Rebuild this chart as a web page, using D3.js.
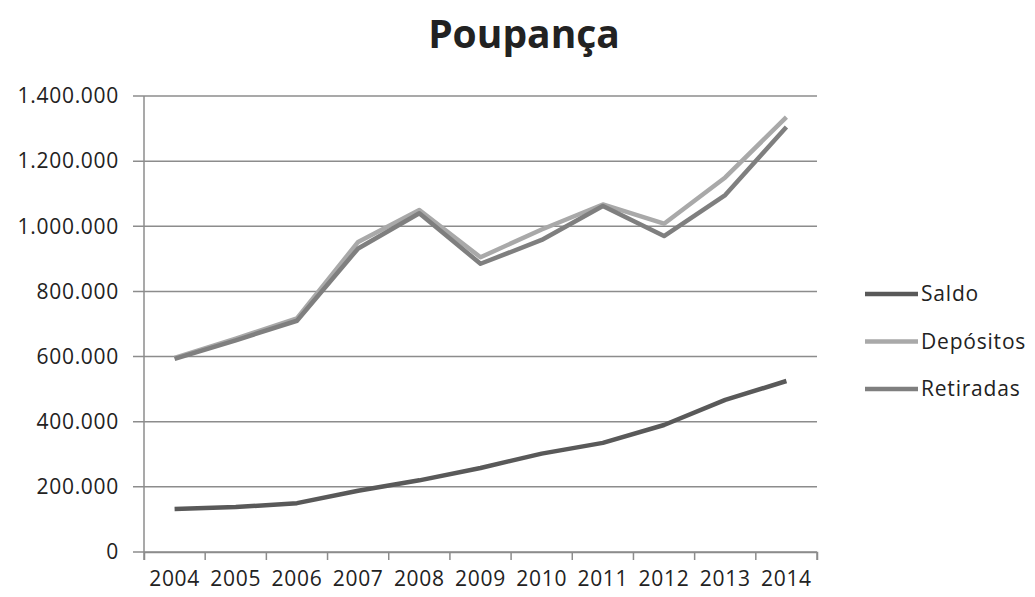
<!DOCTYPE html>
<html lang="pt">
<head>
  <meta charset="utf-8">
  <title>Poupança</title>
  <script src="https://d3js.org/d3.v7.min.js"></script>
  <style>
    body { margin: 0; background: #fff; }
    text { font-family: "Open Sans", "Noto Sans", sans-serif; fill: #222; }
  </style>
</head>
<body>
<script>
  var years = ["2004", "2005", "2006", "2007", "2008", "2009", "2010", "2011", "2012", "2013", "2014"];
  var saldo = [132000, 138000, 150000, 188000, 220000, 258000, 302000, 335000, 390000, 467000, 525000];
  var depositos = [596000, 655000, 717000, 952000, 1050000, 905000, 990000, 1067000, 1008000, 1150000, 1335000];
  var retiradas = [593000, 650000, 710000, 932000, 1040000, 885000, 958000, 1062000, 970000, 1096000, 1305000];
  var yTicks = [0, 200000, 400000, 600000, 800000, 1000000, 1200000, 1400000];

  var series = [
    { name: "Saldo", values: saldo, color: "#595959" },
    { name: "Depósitos", values: depositos, color: "#a9a9a9" },
    { name: "Retiradas", values: retiradas, color: "#7f7f7f" }
  ];

  var width = 1035, height = 597;
  var margin = { left: 144, right: 218, top: 96, bottom: 45 };

  var svg = d3.select("body").append("svg")
      .attr("width", width)
      .attr("height", height);

  var x = d3.scaleBand()
      .domain(years)
      .range([margin.left, width - margin.right]);

  var y = d3.scaleLinear()
      .domain([0, 1400000])
      .range([height - margin.bottom, margin.top]);

  var fmt = d3.formatLocale({ decimal: ",", thousands: ".", grouping: [3], currency: ["R$", ""] }).format(",d");

  // grid lines
  svg.append("g")
      .selectAll("line")
      .data(yTicks)
      .enter()
      .append("line")
      .attr("x1", margin.left - 11)
      .attr("x2", width - margin.right)
      .attr("y1", function(d) { return y(d); })
      .attr("y2", function(d) { return y(d); })
      .attr("stroke", "#8c8c8c")
      .attr("stroke-width", 1.5);

  // y axis line + labels
  svg.append("line")
      .attr("x1", margin.left).attr("x2", margin.left)
      .attr("y1", y(1400000)).attr("y2", y(0))
      .attr("stroke", "#8c8c8c")
      .attr("stroke-width", 1.5);

  svg.append("g")
      .selectAll("text")
      .data(yTicks)
      .enter()
      .append("text")
      .attr("x", margin.left - 25)
      .attr("y", function(d) { return y(d); })
      .attr("dy", "0.35em")
      .attr("text-anchor", "end")
      .attr("font-size", 21)
      .attr("letter-spacing", 0.7)
      .text(function(d) { return fmt(d); });

  // x axis
  var xAxis = d3.axisBottom(x).tickSize(8).tickSizeOuter(8);
  var gx = svg.append("g")
      .attr("transform", "translate(0," + y(0) + ")")
      .call(xAxis);
  gx.select(".domain").attr("stroke", "#8c8c8c").attr("stroke-width", 1.5);
  // ticks sit between categories
  gx.selectAll(".tick line").remove();
  gx.append("g")
      .selectAll("line")
      .data(years.concat(["end"]))
      .enter()
      .append("line")
      .attr("x1", function(d, i) { return margin.left + i * x.step(); })
      .attr("x2", function(d, i) { return margin.left + i * x.step(); })
      .attr("y1", 0).attr("y2", 8)
      .attr("stroke", "#8c8c8c")
      .attr("stroke-width", 1.5);
  gx.selectAll(".tick text")
      .attr("y", 19)
      .attr("font-size", 21)
      .attr("letter-spacing", 0.7)
      .attr("font-family", "'Open Sans', 'Noto Sans', sans-serif")
      .attr("fill", "#222");

  // lines
  var line = d3.line()
      .x(function(d, i) { return x(years[i]) + x.bandwidth() / 2; })
      .y(function(d) { return y(d); });

  svg.append("g")
      .selectAll("path")
      .data(series)
      .enter()
      .append("path")
      .attr("d", function(s) { return line(s.values); })
      .attr("fill", "none")
      .attr("stroke", function(s) { return s.color; })
      .attr("stroke-width", 4.5)
      .attr("stroke-linejoin", "round");

  // title
  svg.append("text")
      .attr("x", 524)
      .attr("y", 48)
      .attr("text-anchor", "middle")
      .attr("font-size", 39)
      .attr("font-weight", "bold")
      .attr("fill", "#000")
      .text("Poupança");

  // legend
  var legend = svg.append("g")
      .selectAll("g")
      .data(series)
      .enter()
      .append("g")
      .attr("transform", function(d, i) { return "translate(865," + (294 + i * 47.5) + ")"; });

  legend.append("line")
      .attr("x1", 0).attr("x2", 53)
      .attr("stroke", function(d) { return d.color; })
      .attr("stroke-width", 4.5);

  legend.append("text")
      .attr("x", 56)
      .attr("dy", "0.35em")
      .attr("font-size", 21)
      .attr("letter-spacing", 0.8)
      .text(function(d) { return d.name; });
</script>
</body>
</html>
